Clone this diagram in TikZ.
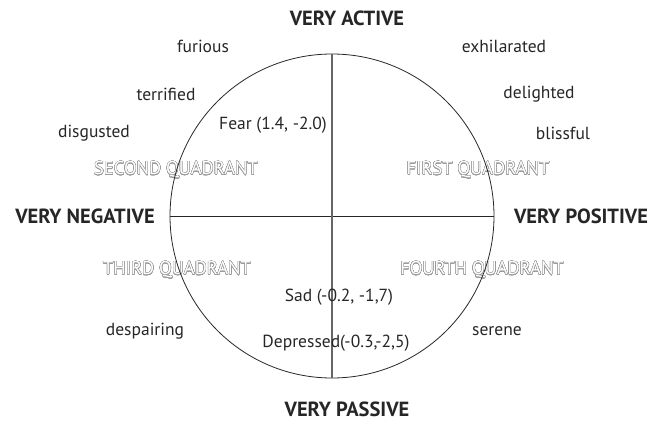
\documentclass[tikz,border=0pt]{standalone}
\usepackage{fontspec}
\setmainfont{PT Sans}
\usepackage{contour}
\contourlength{0.35pt}
\contournumber{32}
\begin{document}
\begin{tikzpicture}[x=1pt,y=-1pt,
  lab/.style={font=\fontsize{17.5}{20}\selectfont, text=black!85, inner sep=0pt},
  axis/.style={font=\bfseries\fontsize{20.5}{24}\selectfont, text=black!85, inner sep=0pt},
  quad/.style={font=\fontsize{18.5}{20}\selectfont, inner sep=0pt}]
\useasboundingbox (0,0) rectangle (651,423);
\newcommand{\quadtext}[1]{\contour{black!40}{\color{white}#1}}
% quadrant labels (drawn first, lines pass over)
\node[quad] (q2) at (176,170) {\quadtext{SECOND QUADRANT}};
\node[quad] (q1) at (478,170) {\quadtext{FIRST QUADRANT}};
\node[quad] (q3) at (177,270) {\quadtext{THIRD QUADRANT}};
\node[quad] (q4) at (482,270) {\quadtext{FOURTH QUADRANT}};
% circle and axes
\coordinate (c) at (332,216);
\node[circle, draw=black!85, line width=0.8pt, minimum size=324pt, inner sep=0pt] (circ) at (c) {};
\draw[black!85, line width=0.8pt] (circ.west) -- (circ.east);
\draw[black!60, line width=1.4pt] (circ.north) -- (circ.south);
% axis labels
\node[axis] (va) at (347,18) {VERY ACTIVE};
\node[axis] (vp) at (347,409) {VERY PASSIVE};
\node[axis] (vn) at (85,216) {VERY NEGATIVE};
\node[axis] (vpos) at (581,216) {VERY POSITIVE};
% emotion words
\node[lab] (fu) at (203,46) {furious};
\node[lab] (ex) at (504,46) {exhilarated};
\node[lab] (te) at (166,94) {terrified};
\node[lab] (de) at (539,94) {delighted};
\node[lab] (di) at (94,133) {disgusted};
\node[lab] (bl) at (563,133) {blissful};
\node[lab] (fe) at (273,125) {Fear (1.4, -2.0)};
\node[lab] (sa) at (339,297) {Sad (-0.2, -1,7)};
\node[lab] (dp) at (145,331) {despairing};
\node[lab] (se) at (497,331) {serene};
\node[lab] (dr) at (336,343) {Depressed(-0.3,-2,5)};
\end{tikzpicture}
\end{document}
